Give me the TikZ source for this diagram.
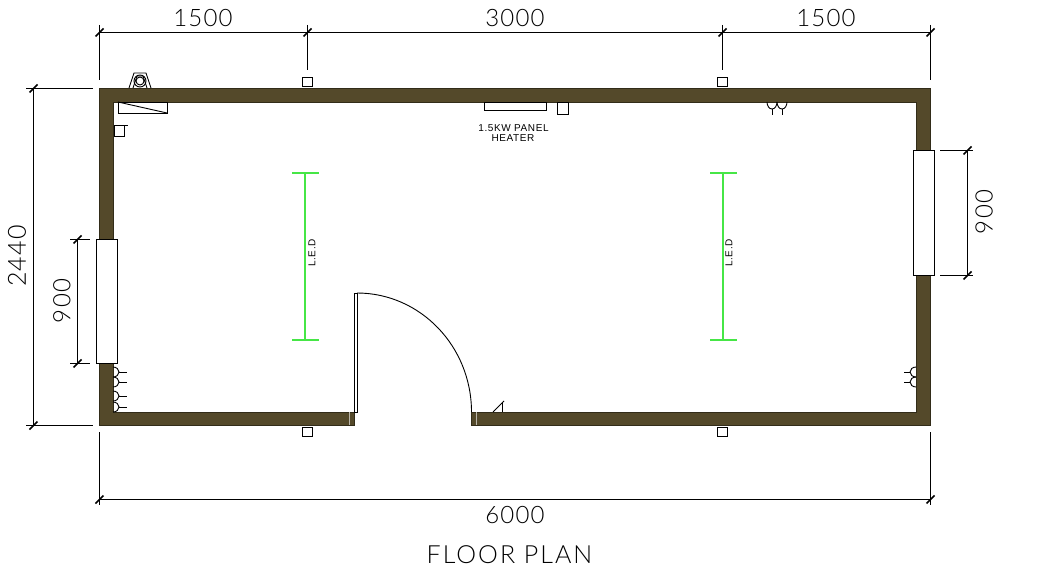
\documentclass[tikz,border=0pt]{standalone}
\usepackage{fontspec}
\setsansfont[LetterSpace=6]{Liberation Sans}
\newfontfamily\cadfont[LetterSpace=5]{Lato Light}
\newfontfamily\titlefont[LetterSpace=8]{Lato Light}
\definecolor{wallcol}{RGB}{84,73,42}
\definecolor{ledcol}{RGB}{70,230,70}
\usetikzlibrary{calc}
\tikzset{
	wall/.style={fill=wallcol,draw=black!40!wallcol,line width=0.8pt},
	line/.style={black,line width=0.9pt},
	dimline/.style={black,line width=0.9pt},
	tick/.style={black,line width=1.5pt},
	opening/.style={fill=white,draw=black,line width=0.9pt},
	led/.style={ledcol,line width=1.3pt},
	dimtext/.style={font=\fontsize{24}{24}\selectfont\cadfont,text=black},
	longtext/.style={font=\fontsize{25}{25}\selectfont\cadfont,text=black},
	titletext/.style={font=\fontsize{25}{25}\selectfont\titlefont,text=black},
	smalltext/.style={font=\fontsize{10}{10}\selectfont\sffamily,text=black},
}
\newcommand{\dimtick}[1]{\draw [tick] ($(#1)+(-4,4)$) -- ($(#1)+(4,-4)$);}
\begin{document}
\begin{tikzpicture}[x=1pt,y=-1pt]
	\tikzstyle{every node}+=[inner sep=0pt]
	\useasboundingbox (0,0) rectangle (1042,588);
	\draw [wall] (99.5,88.5) -- (930,88.5) -- (930,425) -- (471,425) -- (471,412) -- (916,412) -- (916,102) -- (113,102) -- (113,412) -- (354,412) -- (354,425) -- (99.5,425) -- cycle;
	\draw [line,white!60!wallcol] (349,412) -- (349,425);
	\draw [line,white!60!wallcol] (476,412) -- (476,425);
	\draw [opening] (96.5,239.5) rectangle (117.5,363.5);
	\draw [opening] (913.5,150.5) rectangle (934.5,275.5);
	\draw [line,fill=white,line width=0.6pt] (354,293) rectangle (357,412);
	\draw [line] (357,293) arc (-90:0:114.5 and 119);
	\draw [line] (493,412) -- (504,401);
	\draw [line] (502,403) -- (502,412);
	\foreach \px/\py in {302.5/77.5,717.5/77.5,302.5/427.5,717.5/427.5}
		\draw [line] (\px,\py) rectangle ++(10,9);
	\draw [line] (484,102) rectangle (546,110);
	\draw [line] (557,102) rectangle (568,114);
	\node [smalltext] (heatera) at (513.5,128) {1.5KW PANEL};
	\node [smalltext] (heaterb) at (513,138) {HEATER};
	\draw [line] (118,102) rectangle (167,113);
	\draw [line] (118,102) -- (167,113);
	\draw [line] (114,125) rectangle (124,136);
	\draw [line] (124,125) -- (128,125);
	\draw [line] (129,88) -- (134,73) -- (146,73) -- (151,88);
	\draw [line] (133,88) -- (137,76) -- (143,76) -- (147,88);
	\draw [line] (140,81) circle (4);
	\draw [line] (140,81) circle (6);
	\foreach \py in {372,382,396,407} {
		\draw [line] (113,\py-5) arc (-90:90:6 and 5);
		\draw [line] (119,\py) -- (127,\py);
	}
	\foreach \py in {372,382} {
		\draw [line] (916,\py-5) arc (-90:-270:6 and 5);
		\draw [line] (910,\py) -- (904,\py);
	}
	\foreach \px in {772,782} {
		\draw [line] (\px-5,102) arc (180:360:5 and -7);
		\draw [line] (\px,109) -- (\px,115);
	}
	\foreach \px in {305,723} {
		\draw [led] (\px,173) -- (\px,340);
		\draw [led] (\px-13,173) -- (\px+14,173);
		\draw [led] (\px-13,340) -- (\px+14,340);
	}
	\node [smalltext,rotate=90] (leda) at (312,253) {L.E.D};
	\node [smalltext,rotate=90] (ledb) at (729,253) {L.E.D};
	\coordinate (ta) at (99.5,32.5);
	\coordinate (tb) at (307.5,32.5);
	\coordinate (tc) at (722.5,32.5);
	\coordinate (td) at (930.5,32.5);
	\draw [dimline] (ta) -- (td);
	\draw [dimline] (99.5,25) -- (99.5,80);
	\draw [dimline] (307.5,25) -- (307.5,70);
	\draw [dimline] (722.5,25) -- (722.5,70);
	\draw [dimline] (930.5,25) -- (930.5,80);
	\dimtick{ta} \dimtick{tb} \dimtick{tc} \dimtick{td}
	\node [dimtext] (topa) at (203,18) {1500};
	\node [dimtext] (topb) at (515,18) {3000};
	\node [dimtext] (topc) at (826,18) {1500};
	\coordinate (la) at (33.5,88.5);
	\coordinate (lb) at (33.5,425.5);
	\draw [dimline] (la) -- (lb);
	\draw [dimline] (26,88.5) -- (93,88.5);
	\draw [dimline] (26,425.5) -- (93,425.5);
	\dimtick{la} \dimtick{lb}
	\node [longtext,rotate=90] (lefta) at (17,256) {2440};
	\coordinate (wa) at (77.5,239.5);
	\coordinate (wb) at (77.5,363.5);
	\draw [dimline] (wa) -- (wb);
	\draw [dimline] (70,239.5) -- (90,239.5);
	\draw [dimline] (70,363.5) -- (90,363.5);
	\dimtick{wa} \dimtick{wb}
	\node [dimtext,rotate=90] (leftb) at (62,301) {900};
	\coordinate (ra) at (967.5,150.5);
	\coordinate (rb) at (967.5,275.5);
	\draw [dimline] (ra) -- (rb);
	\draw [dimline] (940,150.5) -- (973,150.5);
	\draw [dimline] (940,275.5) -- (973,275.5);
	\dimtick{ra} \dimtick{rb}
	\node [dimtext,rotate=90] (right) at (984,212) {900};
	\coordinate (ba) at (99.5,499.5);
	\coordinate (bb) at (930.5,499.5);
	\draw [dimline] (ba) -- (bb);
	\draw [dimline] (99.5,432) -- (99.5,505);
	\draw [dimline] (930.5,432) -- (930.5,505);
	\dimtick{ba} \dimtick{bb}
	\node [dimtext] (bottom) at (515,515) {6000};
	\node [titletext] (title) at (509.5,555) {FLOOR PLAN};
\end{tikzpicture}
\end{document}
